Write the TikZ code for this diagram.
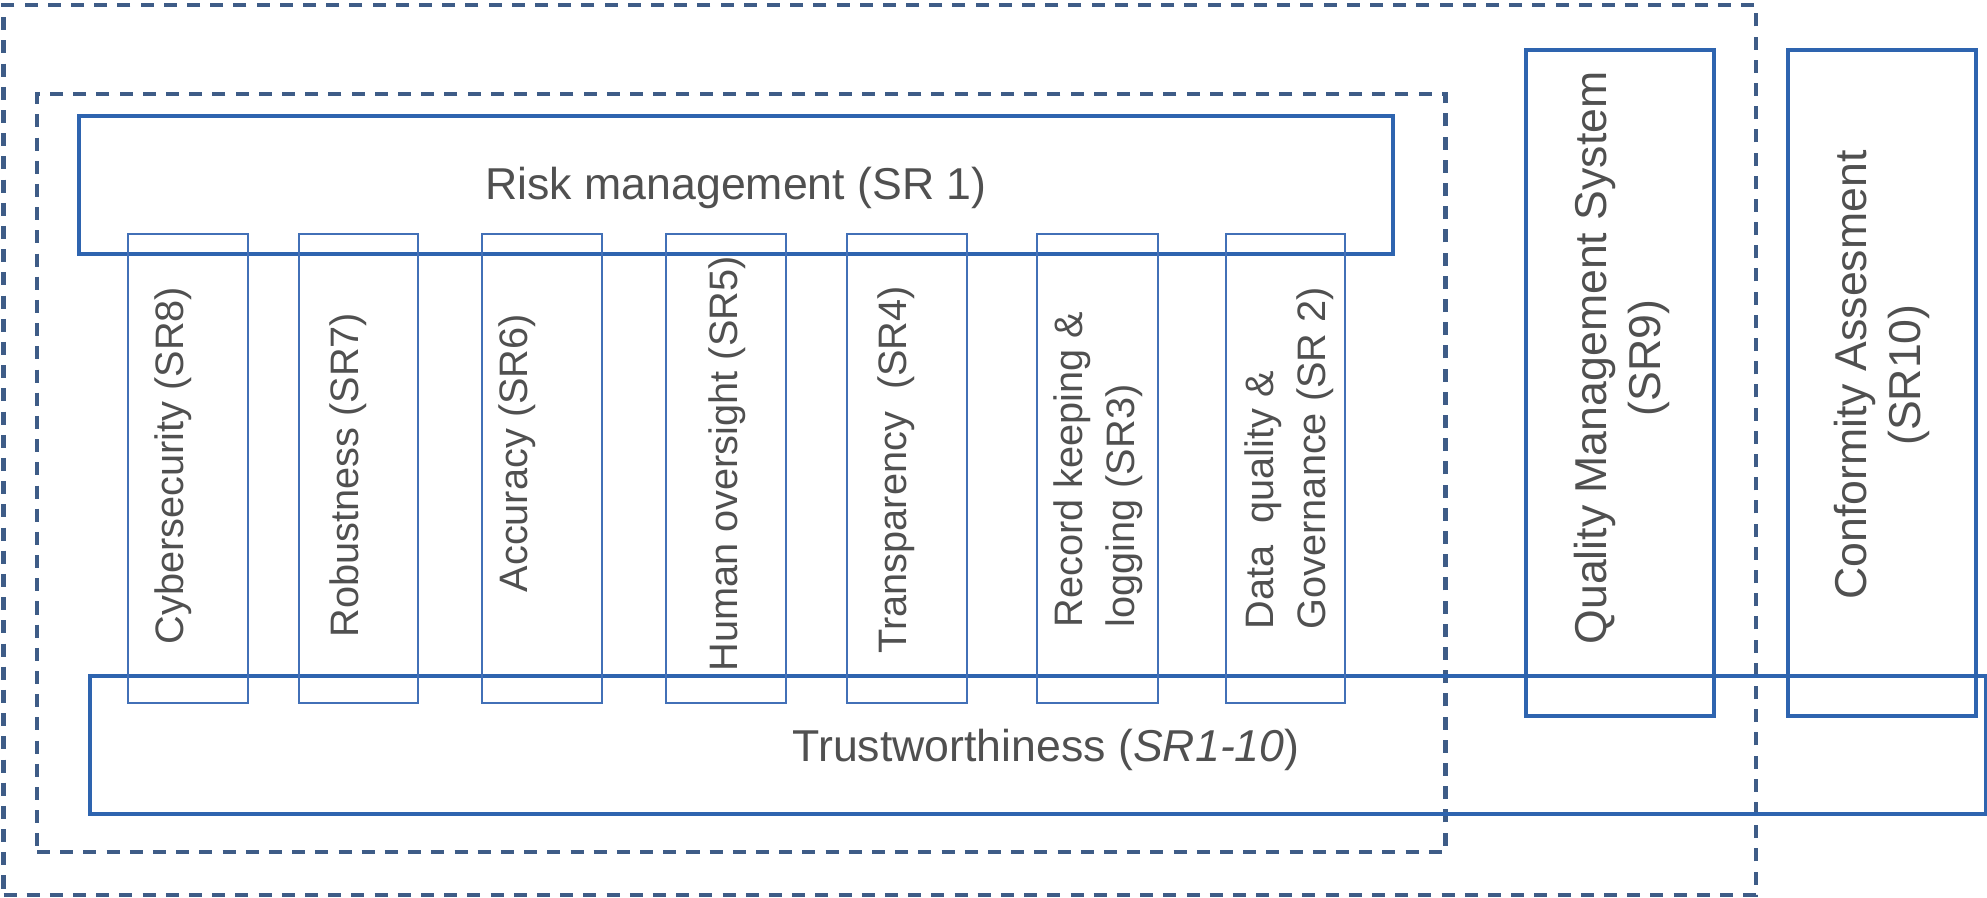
\documentclass[tikz,border=0pt]{standalone}
\usepackage{fontspec}
\setmainfont{Liberation Sans}
\usetikzlibrary{fit}
\definecolor{boxblue}{RGB}{46,100,175}
\definecolor{colblue}{RGB}{66,112,183}
\definecolor{zoneblue}{RGB}{62,92,135}
\definecolor{txtgray}{RGB}{80,80,80}
\begin{document}
\begin{tikzpicture}[x=0.1mm,y=-0.1mm,
		box/.style={draw=boxblue,line width=0.95pt,inner sep=0pt},
		colbox/.style={draw=colblue,line width=0.65pt,inner sep=0pt},
		zone/.style={draw=zoneblue,line width=1.15pt,dash pattern=on 3.7pt off 2.9pt,inner sep=0pt},
		big/.style={text=txtgray,inner sep=0pt,font=\fontsize{12.7}{15.6}\selectfont},
		small/.style={text=txtgray,inner sep=0pt,font=\fontsize{11.3}{14.8}\selectfont,rotate=90}]
	\useasboundingbox (0,0) rectangle (1987,898);
	% dashed zones
	\node[zone,fit={(3.5,5) (1756,895)}] (outer) {};
	\node[zone,fit={(37,94) (1445.5,852)}] (inner) {};
	% main boxes
	\node[box,fit={(79,116) (1393,254)}] (risk) {};
	\node[box,fit={(90,676) (1986,814)}] (trust) {};
	\node[box,fit={(1526,50) (1714,716)}] (qms) {};
	\node[box,fit={(1788,50) (1976,716)}] (conf) {};
	\foreach \l/\r [count=\i] in {128/248,299/418,482/602,666/786,847/967,1037/1158,1226/1345}
		\node[colbox,fit={(\l,234) (\r,703)}] (col\i) {};
	% labels
	\node[big] (risklbl) at (736,188) {Risk management (SR 1)};
	\node[big] (trustlbl) at (1046,750) {Trustworthiness (\textit{SR1-10})};
	\node[big,rotate=90,align=center] (qmslbl) at (1622,358) {Quality Management System\\(SR9)};
	\node[big,rotate=90,align=center] (conflbl) at (1882,375) {Conformity Assesment\\(SR10)};
	\foreach \x/\y/\t [count=\i] in {183/645/{Cybersecurity (SR8)},358/638/{Robustness (SR7)},527/593/{Accuracy (SR6)},737/672/{Human oversight (SR5)},906/654/{Transparency~ (SR4)}}
		\node[small,anchor=base west] (lbl\i) at (\x,\y) {\t};
	\node[small,anchor=north west,align=left] (lbl6) at (1053,628) {Record keeping \&\\logging (SR3)};
	\node[small,anchor=north west,align=left] (lbl7) at (1244,630) {Data~ quality \&\\Governance (SR 2)};
\end{tikzpicture}
\end{document}
